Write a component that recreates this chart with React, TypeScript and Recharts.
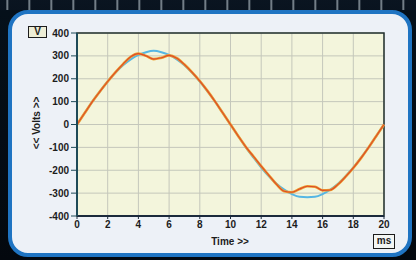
import React from 'react';
import { LineChart, Line, XAxis, YAxis, CartesianGrid, ReferenceArea } from 'recharts';

// time axis (ms), sampled every 0.5 ms
const timeMs = [
  0, 0.5, 1, 1.5, 2, 2.5, 3, 3.5, 4, 4.5, 5, 5.5, 6, 6.5, 7, 7.5, 8, 8.5, 9, 9.5, 10,
  10.5, 11, 11.5, 12, 12.5, 13, 13.5, 14, 14.5, 15, 15.5, 16, 16.5, 17, 17.5, 18, 18.5, 19, 19.5, 20,
];

// ideal sine (blue)
const idealVolts = [
  0, 50, 100, 145, 188, 226, 259, 285, 304, 316, 322, 316, 304, 285, 259, 226, 188, 145, 100, 50, 0,
  -50, -100, -145, -188, -226, -259, -285, -304, -316, -318, -316, -304, -285, -259, -226, -188, -145, -100, -50, 0,
];

// distorted waveform (orange / red)
const actualVolts = [
  0, 50, 100, 145, 188, 228, 264, 296, 310, 300, 286, 292, 302, 290, 262, 228, 190, 147, 100, 50, 0,
  -50, -98, -140, -182, -222, -262, -292, -296, -282, -270, -272, -288, -286, -262, -228, -190, -147, -100, -50, 0,
];

const xTicks = [0, 2, 4, 6, 8, 10, 12, 14, 16, 18, 20];
const yTicks = [-400, -300, -200, -100, 0, 100, 200, 300, 400];

const data = timeMs.map((t, i) => ({ t, ideal: idealVolts[i], actual: actualVolts[i] }));

const font = '"Liberation Sans", Arial, sans-serif';
const tickStyle = { fill: '#1c1c1c', fontSize: 10, fontWeight: 700, fontFamily: font };

const App: React.FC = () => {
  return (
    <div
      style={{
        position: 'fixed', left: 0, top: 0, width: 416, height: 260, overflow: 'hidden',
        background: 'linear-gradient(180deg, #0b1622 0px, #05101a 12px, #03080e 100%)',
      }}
    >
      {/* stripes at the top edge */}
      <div
        style={{
          position: 'absolute', left: 0, top: 0, width: 416, height: 10,
          background: 'repeating-linear-gradient(90deg, #0a1420 0px, #0a1420 6px, #b8c4cc 7px, #0a1420 9px, #0a1420 22px)',
          opacity: 0.8,
        }}
      />
      {/* rounded blue panel */}
      <div
        style={{
          position: 'absolute', left: 8, top: 10, width: 404, height: 247, boxSizing: 'border-box',
          border: '4px solid #1f74c2', borderRadius: 20, background: '#edf1f7',
        }}
      />
      <div style={{ position: 'absolute', left: 0, top: 0 }}>
        <LineChart width={416} height={260} data={data} margin={{ top: 33, right: 32, bottom: 14, left: 27 }}>
          <CartesianGrid stroke="#c4c7bb" strokeWidth={1} fill="#f3f5dc" vertical horizontal />
          <XAxis
            dataKey="t" type="number" domain={[0, 20]} ticks={xTicks} height={30}
            axisLine={{ stroke: '#1b2a3c', strokeWidth: 2 }} tickLine={{ stroke: '#1b2a3c' }}
            tickSize={3} tickMargin={2} tick={tickStyle} interval={0}
          />
          <YAxis
            type="number" domain={[-400, 400]} ticks={yTicks} width={50}
            axisLine={{ stroke: '#1e4a58', strokeWidth: 2 }} tickLine={{ stroke: '#1e4a58' }}
            tickSize={6} tickMargin={2} tick={tickStyle} interval={0}
          />
          <ReferenceArea x1={0} x2={20} y1={-400} y2={400} fill="none" fillOpacity={0} stroke="#22302e" strokeWidth={1.5} />
          <Line dataKey="ideal" type="monotone" stroke="#55b6e4" strokeWidth={2} dot={false} isAnimationActive={false} />
          <Line dataKey="actual" type="monotone" stroke="#eea02e" strokeWidth={2.6} dot={false} isAnimationActive={false} />
          <Line dataKey="actual" type="monotone" stroke="#dc4a2c" strokeWidth={1.1} dot={false} isAnimationActive={false} />
        </LineChart>
      </div>
      {/* axis labels */}
      <div
        style={{
          position: 'absolute', left: 28, top: 26, width: 19, height: 12, boxSizing: 'border-box',
          border: '1.5px solid #1c1c1c', background: '#eeeed6', font: `700 10px ${font}`, color: '#1c1c1c',
          textAlign: 'center', lineHeight: '10px',
        }}
      >
        V
      </div>
      <div
        style={{
          position: 'absolute', left: 373, top: 234, width: 22, height: 15, boxSizing: 'border-box',
          border: '1.5px solid #1c1c1c', background: '#f4f6f4', font: `700 10px ${font}`, color: '#1c1c1c',
          textAlign: 'center', lineHeight: '12px',
        }}
      >
        ms
      </div>
      <div
        style={{
          position: 'absolute', left: 190, top: 236, width: 80, textAlign: 'center',
          font: `700 10px ${font}`, color: '#1c1c1c',
        }}
      >
        Time &gt;&gt;
      </div>
      <div
        style={{
          position: 'absolute', left: 37, top: 123, width: 80, marginLeft: -40, marginTop: -6, height: 12,
          textAlign: 'center', font: `700 10px ${font}`, color: '#1c1c1c', transform: 'rotate(-90deg)',
          lineHeight: '12px',
        }}
      >
        &lt;&lt; Volts &gt;&gt;
      </div>
    </div>
  );
};

export default App;
